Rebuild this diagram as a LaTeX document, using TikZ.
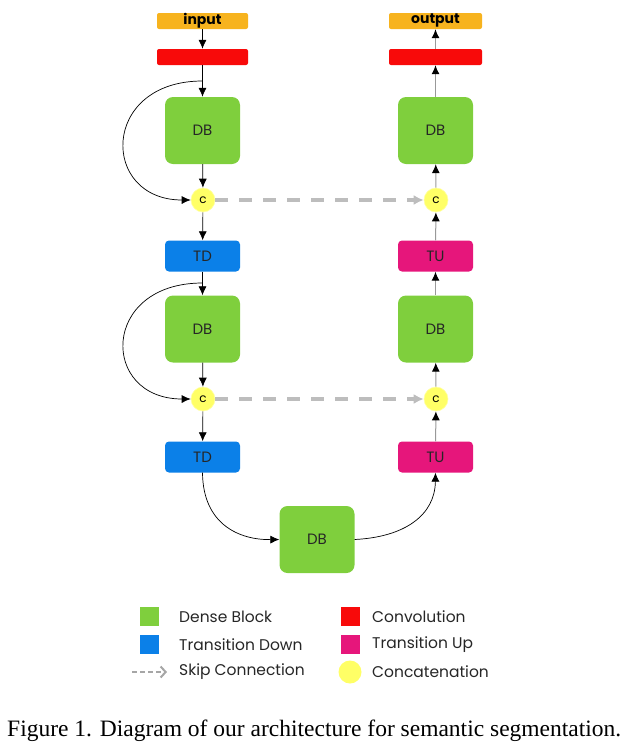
\documentclass[tikz,border=0pt]{standalone}
\usepackage{fontspec}
\setmainfont{Liberation Serif}
\newfontfamily\gothic{Poppins}
\usetikzlibrary{arrows.meta}
\definecolor{cin}{HTML}{F7B31E}
\definecolor{cconv}{HTML}{F80A0A}
\definecolor{cdb}{HTML}{7FCF3D}
\definecolor{ctd}{HTML}{0B80E8}
\definecolor{ctu}{HTML}{E6167B}
\definecolor{ccat}{HTML}{FFFF66}
\definecolor{cskip}{HTML}{BDBDBD}
\tikzset{
  io/.style={fill=cin, rounded corners=2pt, minimum width=91pt, minimum height=16pt, inner sep=0pt, font=\gothic\bfseries\fontsize{14}{14}\selectfont},
  convbox/.style={fill=cconv, rounded corners=2pt, minimum width=91pt, minimum height=16pt, inner sep=0pt},
  dbbox/.style={fill=cdb, rounded corners=8pt, minimum width=75pt, minimum height=67pt, inner sep=0pt, text=black!85, font=\gothic\fontsize{15}{15}\selectfont},
  tdbox/.style={fill=ctd, rounded corners=4pt, minimum width=75pt, minimum height=31pt, inner sep=0pt, text=black!85, font=\gothic\fontsize{15}{15}\selectfont},
  tubox/.style={fill=ctu, rounded corners=4pt, minimum width=75pt, minimum height=31pt, inner sep=0pt, text=black!85, font=\gothic\fontsize{15}{15}\selectfont},
  catnode/.style={circle, fill=ccat, draw=ccat!60!white, line width=0.6pt, minimum size=24pt, inner sep=0pt, font=\gothic\fontsize{12}{12}\selectfont},
  arr/.style={-{Latex[length=9pt,width=8pt]}, line width=0.7pt, black},
  arrg/.style={-{Latex[length=9pt,width=8pt,color=black]}, line width=1pt, draw=black!40},
  skipc/.style={-{Latex[length=10pt,width=10pt]}, line width=3.5pt, draw=cskip, dash pattern=on 13pt off 11pt},
  legsq/.style={minimum size=19pt, inner sep=0pt},
  legtxt/.style={anchor=west, inner sep=0pt, font=\gothic\fontsize{15.5}{15.5}\selectfont, text=black!85},
}
\begin{document}
\begin{tikzpicture}[x=1pt,y=-1pt]
\useasboundingbox (0,0) rectangle (624,750);
% left column
\node[io] (in) at (202.5,21) {input};
\node[convbox] (convL) at (202.5,57) {};
\node[dbbox] (dbL1) at (202.5,130.5) {DB};
\node[catnode] (cL1) at (203,200) {c};
\node[tdbox] (td1) at (202.5,256) {TD};
\node[dbbox] (dbL2) at (202.5,329) {DB};
\node[catnode] (cL2) at (203,399) {c};
\node[tdbox] (td2) at (202.5,457) {TD};
% bottom
\node[dbbox] (dbB) at (317,539.5) {DB};
% right column
\node[tubox] (tu2) at (435.5,457) {TU};
\node[catnode] (cR2) at (436,399) {c};
\node[dbbox] (dbR2) at (435.5,329) {DB};
\node[tubox] (tu1) at (435.5,256) {TU};
\node[catnode] (cR1) at (436,200) {c};
\node[dbbox] (dbR1) at (435.5,130.5) {DB};
\node[convbox, minimum width=93pt] (convR) at (435.5,57) {};
\node[io, minimum width=93pt] (out) at (435.5,21) {output};
% coordinates for skip curves
\coordinate (s1) at (202.5,81);
\coordinate (s2) at (202.5,283);
% left arrows
\draw[arr] (in) -- (convL);
\draw[arr] (convL) -- (dbL1);
\draw[arr] (dbL1) -- (cL1);
\draw[arr] (cL1) -- (td1);
\draw[arr] (td1) -- (dbL2);
\draw[arr] (dbL2) -- (cL2);
\draw[arr] (cL2) -- (td2);
\draw[arr] (s1) .. controls (100,81) and (100,200) .. (cL1.west);
\draw[arr] (s2) .. controls (100,283) and (100,399) .. (cL2.west);
% bottom curves
\draw[arr] (td2.south) .. controls (203,525) and (240,540) .. (dbB.west);
\draw[arr] (dbB.east) .. controls (405,537) and (435,515) .. (tu2.south);
% right arrows
\draw[arrg] (tu2) -- (cR2);
\draw[arrg] (cR2) -- (dbR2);
\draw[arrg] (dbR2) -- (tu1);
\draw[arrg] (tu1) -- (cR1);
\draw[arrg] (cR1) -- (dbR1);
\draw[arrg] (dbR1) -- (convR);
\draw[arrg] (convR) -- (out);
% skip connections
\draw[skipc] (cL1.east) -- (cR1.west);
\draw[skipc] (cL2.east) -- (cR2.west);
% legend
\node[legsq, fill=cdb] (lg1) at (149.5,616.5) {};
\node[legtxt] (lt1) at (179,616.5) {Dense Block};
\node[legsq, fill=ctd] (lg2) at (149.5,644.5) {};
\node[legtxt] (lt2) at (179,644.5) {Transition Down};
\coordinate (la) at (132,672);
\coordinate (lb) at (167,672);
\draw[-{Straight Barb[length=5pt,width=11pt,line width=2pt]}, line width=2pt, draw=black!35, dash pattern=on 5pt off 3pt] (la) -- (lb);
\node[legtxt] (lt3) at (179,672) {Skip Connection};
\node[legsq, fill=cconv] (lg4) at (350,616.5) {};
\node[legtxt] (lt4) at (372,616.5) {Convolution};
\node[legsq, fill=ctu] (lg5) at (350,644.5) {};
\node[legtxt] (lt5) at (372,644.5) {Transition Up};
\node[circle, fill=ccat, minimum size=23pt, inner sep=0pt] (lg6) at (350,672) {};
\node[legtxt] (lt6) at (372,672) {Concatenation};
% caption
\node[anchor=base west, inner sep=0pt, font=\fontsize{23.5}{23.5}\selectfont] (cap) at (7,736) {Figure 1. Diagram of our architecture for semantic segmentation.};
\end{tikzpicture}
\end{document}
